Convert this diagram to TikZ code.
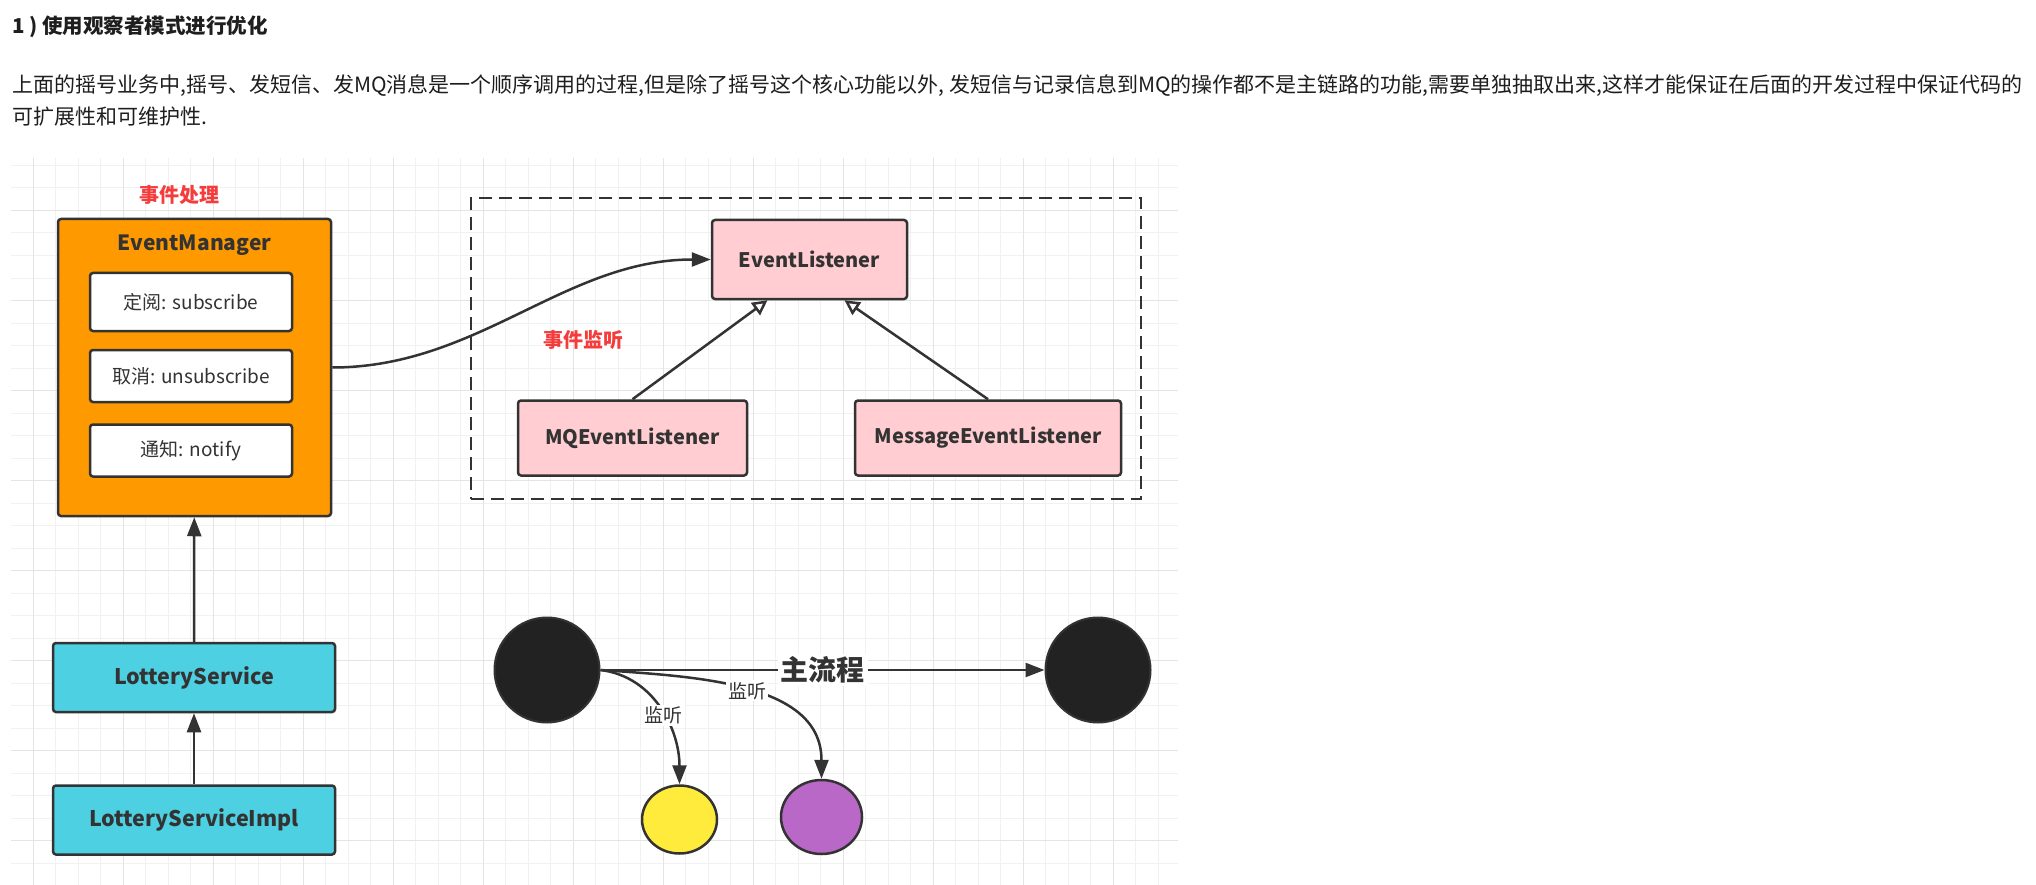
\documentclass[tikz,border=0pt]{standalone}
\usepackage{fontspec}
\setmainfont{Noto Sans CJK SC}
\usetikzlibrary{arrows.meta,shapes.geometric}

\definecolor{ink}{HTML}{333333}
\definecolor{textdark}{HTML}{1E1E1E}
\definecolor{gridminor}{HTML}{F1F1F1}
\definecolor{gridmajor}{HTML}{E4E4E4}
\definecolor{orangebox}{HTML}{FF9900}
\definecolor{cyanbox}{HTML}{4DD0E1}
\definecolor{pinkbox}{HTML}{FFCDD2}
\definecolor{notered}{HTML}{F53C3C}
\definecolor{blackdot}{HTML}{222222}
\definecolor{yellowdot}{HTML}{FFEB3B}
\definecolor{purpledot}{HTML}{BA68C8}

\begin{document}
\begin{tikzpicture}[
		x=1pt, y=-1pt,
		every node/.style={inner sep=0pt, text=ink},
		box/.style={rectangle, rounded corners=3pt, draw=ink, line width=2.5pt},
		item/.style={box, fill=white, minimum width=202pt, font=\fontsize{19}{22}\selectfont},
		cls/.style={box, fill=pinkbox, minimum height=75pt, font=\fontsize{20}{24}\selectfont\bfseries},
		svc/.style={box, fill=cyanbox, minimum width=282pt, minimum height=69pt, font=\fontsize{21.5}{24}\selectfont\bfseries},
		note/.style={text=notered, font=\fontsize{20}{24}\selectfont\bfseries},
		dot/.style={circle, draw=ink, fill=blackdot, line width=2pt, minimum size=105pt},
		blob/.style={ellipse, draw=ink, line width=2.5pt},
		flow/.style={draw=ink, line width=2.5pt, -{Triangle[length=19pt,width=14pt]}},
		inherit/.style={draw=ink, line width=2.5pt, -{Triangle[open,fill=white,length=15pt,width=15pt]}},
		listen/.style={fill=white, inner sep=2pt, font=\fontsize{19}{22}\selectfont}
	]
  \useasboundingbox (0,0) rectangle (2036,885);
  \fill[white] (0,0) rectangle (2036,885);

  \node (heading) [anchor=west, text=textdark, font=\fontsize{20.5}{24}\selectfont\bfseries] at (12, 27) {1 ) 使用观察者模式进行优化};
  \node (para_1) [anchor=west, text=textdark, font=\fontsize{21}{24}\selectfont] at (12, 86) {上面的摇号业务中,摇号、发短信、发MQ消息是一个顺序调用的过程,但是除了摇号这个核心功能以外, 发短信与记录信息到MQ的操作都不是主链路的功能,需要单独抽取出来,这样才能保证在后面的开发过程中保证代码的};
  \node (para_2) [anchor=west, text=textdark, font=\fontsize{21}{24}\selectfont] at (12, 117) {可扩展性和可维护性.};

  \begin{scope}
    \clip (11,158) rectangle (1178,885);
    \foreach \k in {-1,...,50} \draw[gridminor, line width=1pt] ({33+22.5*\k},158) -- ++(0,727);
    \foreach \k in {-2,...,30} \draw[gridminor, line width=1pt] (11,{210.5+22.5*\k}) -- ++(1167,0);
    \foreach \k in {0,...,12} \draw[gridmajor, line width=1pt] ({33+90*\k},158) -- ++(0,727);
    \foreach \k in {0,...,7} \draw[gridmajor, line width=1pt] (11,{210.5+90*\k}) -- ++(1167,0);
  \end{scope}

  \node (em_note) [note] at (179, 195) {事件处理};
  \node (em) [box, fill=orangebox, minimum width=273pt, minimum height=297pt] at (194.5, 367.5) {};
  \node (em_label) [font=\fontsize{21}{24}\selectfont\bfseries] at (194.5, 245) {EventManager};
  \node (sub) [item, minimum height=58pt] at (191, 302) {定阅: subscribe};
  \node (unsub) [item, minimum height=52pt] at (191, 376) {取消: unsubscribe};
  \node (notify) [item, minimum height=52pt] at (191, 450.5) {通知: notify};

  \node (ls) [svc] at (194, 677.5) {LotteryService};
  \node (ls_impl) [svc] at (194, 820) {LotteryServiceImpl};

  \node (listeners) [draw=ink, line width=2.5pt, dash pattern=on 13pt off 7pt, minimum width=670pt, minimum height=301pt] at (806, 348.5) {};
  \node (el) [cls, minimum width=195pt, minimum height=79pt] at (809.5, 259.5) {EventListener};
  \node (mq_el) [cls, minimum width=229pt] at (632.5, 438) {MQEventListener};
  \node (msg_el) [cls, minimum width=266pt] at (988, 438) {MessageEventListener};
  \node (el_note) [note] at (583, 340) {事件监听};

  \node (start) [dot] at (547, 670) {};
  \node (finish) [dot] at (1098, 670) {};
  \node (sms) [blob, fill=yellowdot, minimum width=75pt, minimum height=68pt] at (679.5, 819.5) {};
  \node (mq) [blob, fill=purpledot, minimum width=81pt, minimum height=74pt] at (821.5, 817) {};

  \draw (ls_impl) edge [flow] (ls);
  \draw (ls) edge [flow] (em);
  \draw (em.east) edge [flow, out=0, in=180, looseness=0.95] (el.west);
  \draw (mq_el.north) edge [inherit] ([xshift=-42pt]el.south);
  \draw (msg_el.north) edge [inherit] ([xshift=35pt]el.south);
  \draw (start) edge [flow] node [fill=white, inner sep=3pt, font=\fontsize{28}{30}\selectfont\bfseries] {主流程} (finish);
  \draw (start.east) edge [flow, out=-7, in=90] node [listen, pos=0.55] {监听} (sms.north);
  \draw (start.east) edge [flow, out=-4, in=90] node [listen, pos=0.5] {监听} (mq.north);
\end{tikzpicture}
\end{document}
